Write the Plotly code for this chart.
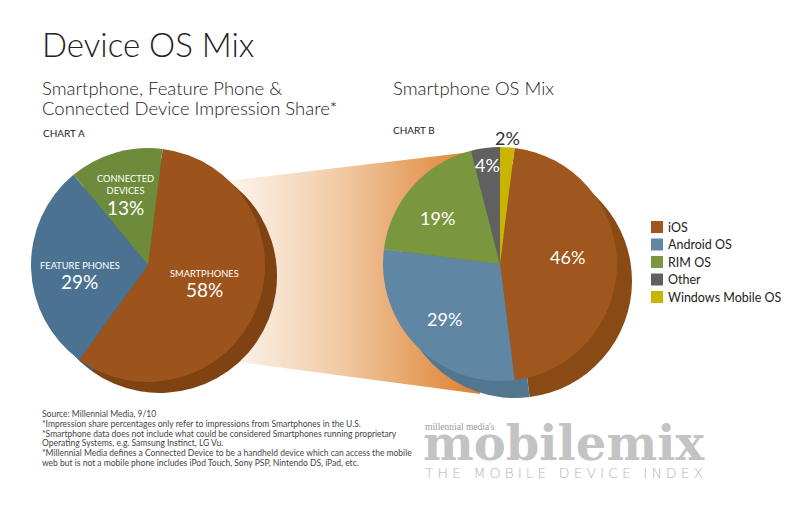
import math
import plotly.graph_objects as go

W, H = 793, 510

# ---- data ----
a_labels = ["SMARTPHONES", "FEATURE PHONES", "CONNECTED<br>DEVICES"]
a_values = [58, 29, 13]
a_colors = ["#9d541c", "#4b7391", "#6e8b3b"]
a_shadow = ["#7f4313", "#3b5c76", "#55702c"]

b_labels = ["iOS", "Android OS", "RIM OS", "Other", "Windows Mobile OS"]
b_values = [46, 29, 19, 4, 2]
b_colors = ["#a0571e", "#5f86a2", "#7a963f", "#606060", "#c9b500"]
b_shadow = ["#8a4a16", "#517690", "#627d32", "#4a4a4a", "#a89600"]

footnotes = [
    "Source: Millennial Media, 9/10",
    "*Impression share percentages only refer to impressions from Smartphones in the U.S.",
    "*Smartphone data does not include what could be considered Smartphones running proprietary",
    "Operating Systems, e.g. Samsung Instinct, LG Vu.",
    "*Millennial Media defines a Connected Device to be a handheld device which can access the mobile",
    "web but is not a mobile phone includes iPod Touch, Sony PSP, Nintendo DS, iPad, etc.",
]

# ---- styling / layout params ----
FONT = "Lato"
ROT = 7.2
A_C, B_C, R = (148, 265), (500, 264), 117
A_SH, B_SH = (12, 11), (15, 17)
# label placement: radius fraction and angular nudge (deg) relative to slice bisector
a_label_r, a_label_da = [0.53, 0.60, 0.53], [2, -12, -5]
b_label_r, b_label_da = [0.58, 0.67, 0.66, 0.855, 1.08], [-6, 0, -5, 0, 0]
b_label_col = ["white", "white", "white", "white", "#333333"]


def dom(cx, cy, r):
    return dict(x=[(cx - r) / W, (cx + r) / W], y=[(H - cy - r) / H, (H - cy + r) / H])


def label_pos(values, center, fracs, dangs):
    tot = sum(values)
    cum = 0
    out = []
    for v, f, da in zip(values, fracs, dangs):
        mid = math.radians(ROT + (cum + v / 2) / tot * 360 + da)
        out.append((center[0] + f * R * math.sin(mid), center[1] - f * R * math.cos(mid)))
        cum += v
    return out


fig = go.Figure()

# connector band (decorative)
fig.add_trace(go.Scatter(
    x=[226, 480, 480, 232], y=[181, 151, 394, 361],
    mode="lines", fill="toself", line=dict(width=0),
    fillgradient=dict(type="horizontal",
                      colorscale=[[0, "#fdf6f0"], [0.45, "#f0caa4"], [1, "#df7e2c"]]),
    hoverinfo="skip", showlegend=False,
))


def add_pie(values, labels, colors, center):
    fig.add_trace(go.Pie(
        values=values, labels=labels, sort=False, direction="clockwise", rotation=ROT,
        marker=dict(colors=colors, line=dict(width=0)), textinfo="none",
        hovertemplate="%{label}: %{value}%<extra></extra>",
        showlegend=False, domain=dom(*center, R),
    ))


add_pie(a_values, a_labels, a_shadow, (A_C[0] + A_SH[0], A_C[1] + A_SH[1]))
add_pie(a_values, a_labels, a_colors, A_C)
add_pie(b_values, b_labels, b_shadow, (B_C[0] + B_SH[0], B_C[1] + B_SH[1]))
add_pie(b_values, b_labels, b_colors, B_C)

ann = []
shapes = []


def txt(x, y, s, size, color="#222222", family=FONT, weight=None,
        xanchor="left", yanchor="middle", align="left"):
    f = dict(family=family, size=size, color=color)
    if weight:
        f["weight"] = weight
    ann.append(dict(x=x / W, y=1 - y / H, xref="paper", yref="paper", text=s, showarrow=False,
                    xanchor=xanchor, yanchor=yanchor, font=f, align=align, borderpad=0))


# pie labels: percentage centred at the computed point, category label just above it
for (x, y), lab, v in zip(label_pos(a_values, A_C, a_label_r, a_label_da), a_labels, a_values):
    txt(x, y, f"{v}%", 19, color="white", xanchor="center", align="center")
    txt(x, y - 10, lab, 9.3, color="white", xanchor="center", yanchor="bottom", align="center")
for (x, y), v, c in zip(label_pos(b_values, B_C, b_label_r, b_label_da), b_values, b_label_col):
    txt(x, y, f"{v}%", 18, color=c, xanchor="center", align="center")

# legend
for i, (lab, col) in enumerate(zip(b_labels, b_colors)):
    yc = 227 + i * 17.5
    shapes.append(dict(type="rect", xref="paper", yref="paper",
                       x0=651 / W, x1=663 / W, y0=1 - (yc - 6) / H, y1=1 - (yc + 6) / H,
                       fillcolor=col, line=dict(width=0)))
    txt(667, yc, lab, 12.5, color="#222222")

# titles
txt(41, 44, "Device OS Mix", 33, weight=300)
txt(41, 88, "Smartphone, Feature Phone &", 18.5, weight=300)
txt(41, 108, "Connected Device Impression Share*", 18.5, weight=300)
txt(42, 133, "CHART A", 10)
txt(392, 88, "Smartphone OS Mix", 18.5, weight=300)
txt(392, 130, "CHART B", 10)

for i, line in enumerate(footnotes):
    txt(41, 414 + i * 9.8, line, 8.5, color="#444444")

# logo
txt(424, 427, "millennial media's", 9.5, color="#9a9a9a", family="Liberation Serif")
txt(422, 443, "mobilemix", 48, color="#c3c3c3", family="DejaVu Serif", weight="bold")
txt(424, 473, "<span style='letter-spacing:4px'>THE MOBILE DEVICE INDEX</span>", 14,
    color="#b5b5b5", family="DejaVu Sans", weight=200)

fig.update_layout(
    width=W, height=H, margin=dict(l=0, r=0, t=0, b=0),
    paper_bgcolor="white", plot_bgcolor="white",
    xaxis=dict(range=[0, W], visible=False, fixedrange=True),
    yaxis=dict(range=[H, 0], visible=False, fixedrange=True),
    annotations=ann, shapes=shapes, showlegend=False,
)

fig.write_html("out.html", config={"displayModeBar": False},
               post_script="document.body.style.margin='0px';")
